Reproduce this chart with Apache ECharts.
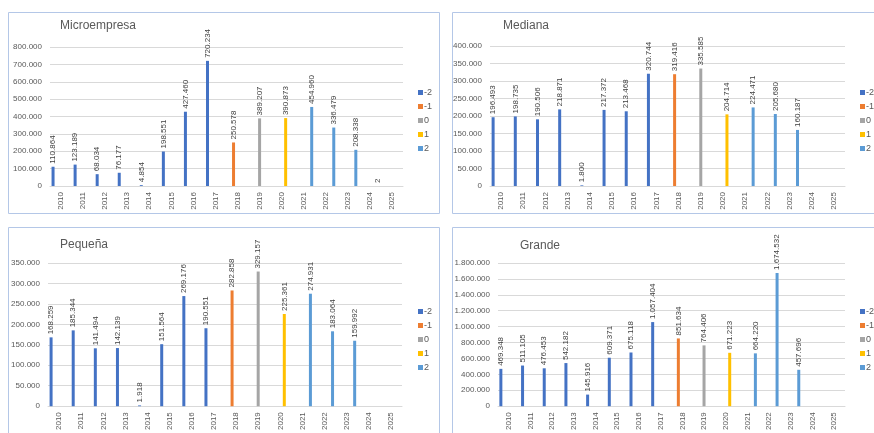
<!DOCTYPE html>
<html>
<head>
<meta charset="utf-8">
<script src="https://cdn.jsdelivr.net/npm/echarts@6/dist/echarts.min.js"></script>
<style>
  html, body { margin: 0; padding: 0; background: #fff; }
  #main { width: 874px; height: 433px; }
</style>
</head>
<body>
<div id="main"></div>
<script>
var years = ['2010','2011','2012','2013','2014','2015','2016','2017','2018','2019','2020','2021','2022','2023','2024','2025'];
var groupNames = ['-2', '-1', '0', '1', '2'];
// group of each year (which series it belongs to)
var yearGroup = ['-2','-2','-2','-2','-2','-2','-2','-2','-1','0','1','2','2','2','2','2'];

var microValues   = [110864, 123189, 68034, 76177, 4854, 198551, 427460, 720234, 250578, 389207, 390873, 454960, 336479, 208338, 2, null];
var medianaValues = [196493, 198735, 190506, 218871, 1800, 217372, 213468, 320744, 319416, 335585, 204714, 224471, 205680, 160187, null, null];
var pequenaValues = [168259, 185344, 141494, 142139, 1918, 151564, 269176, 190551, 282858, 329157, 225361, 274931, 183064, 159992, null, null];
var grandeValues  = [469348, 511105, 476453, 542182, 145916, 609371, 675118, 1057404, 851634, 764406, 671223, 664220, 1674532, 457696, null, null];

var panelTitles = ['Microempresa', 'Mediana', 'Pequeña', 'Grande'];
var panelValues = [microValues, medianaValues, pequenaValues, grandeValues];
var yMax = [800000, 400000, 350000, 1800000];
var yStep = [100000, 50000, 50000, 200000];

var colors = ['#4472c4', '#ed7d31', '#a5a5a5', '#ffc000', '#5b9bd5'];

// layout per panel
var grids = [
  {left: 50, top: 47, width: 353, height: 139},
  {left: 490, top: 46, width: 355, height: 140},
  {left: 48, top: 263, width: 354, height: 146},
  {left: 498, top: 263, width: 347, height: 146}
];
var titlePos = [[60, 20], [503, 20], [60, 239], [520, 240]];
var legendPos = [[418, 88], [860, 88], [418, 307], [860, 307]];
var panelBox = [[8.5, 12.5, 431, 201], [452.5, 12.5, 440, 201], [8.5, 227.5, 431, 220], [452.5, 227.5, 440, 220]];

var font = "'Liberation Sans Narrow', 'Liberation Sans', Arial, sans-serif";

function dots(v) {
  return String(v).replace(/\B(?=(\d{3})+(?!\d))/g, '.');
}

var chart = echarts.init(document.getElementById('main'));

var option = {
  color: colors,
  animation: false,
  title: [],
  legend: [],
  grid: [],
  xAxis: [],
  yAxis: [],
  series: [],
  graphic: []
};

for (var p = 0; p < 4; p++) {
  option.graphic.push({
    type: 'rect',
    shape: {x: panelBox[p][0], y: panelBox[p][1], width: panelBox[p][2], height: panelBox[p][3]},
    style: {fill: 'none', stroke: '#b4c7e7', lineWidth: 1},
    silent: true
  });
  option.title.push({
    text: panelTitles[p],
    left: titlePos[p][0],
    top: titlePos[p][1],
    padding: 0,
    textStyle: {fontFamily: 'Liberation Sans, Arial, sans-serif', fontSize: 12, fontWeight: 'normal', color: '#595959'}
  });
  option.legend.push({
    data: groupNames.map(function (n) { return {name: n, icon: 'rect'}; }),
    orient: 'vertical',
    left: legendPos[p][0],
    top: legendPos[p][1],
    itemWidth: 5,
    itemHeight: 5,
    itemGap: 5,
    padding: 0,
    selectedMode: false,
    textStyle: {fontFamily: font, fontSize: 9, color: '#595959', padding: [0, 0, 0, -4]}
  });
  option.grid.push({
    left: grids[p].left, top: grids[p].top, width: grids[p].width, height: grids[p].height,
    containLabel: false
  });
  option.xAxis.push({
    type: 'category',
    gridIndex: p,
    data: years,
    axisLine: {lineStyle: {color: '#d9d9d9'}},
    axisTick: {show: false},
    axisLabel: {interval: 0, rotate: 90, fontFamily: font, fontSize: 8, color: '#595959', margin: 6}
  });
  option.yAxis.push({
    type: 'value',
    gridIndex: p,
    min: 0,
    max: yMax[p],
    interval: yStep[p],
    axisLine: {show: false},
    axisTick: {show: false},
    splitLine: {lineStyle: {color: '#d9d9d9'}},
    axisLabel: {fontFamily: font, fontSize: 8, color: '#595959', margin: 8, formatter: dots}
  });
  for (var g = 0; g < groupNames.length; g++) {
    var vals = panelValues[p];
    var data = years.map(function (y, i) {
      return (yearGroup[i] === groupNames[g] && vals[i] != null) ? vals[i] : null;
    });
    option.series.push({
      name: groupNames[g],
      type: 'bar',
      xAxisIndex: p,
      yAxisIndex: p,
      data: data,
      barWidth: 3,
      barGap: '33%',
      itemStyle: {color: colors[g]},
      label: {
        show: true,
        position: 'top',
        rotate: 90,
        align: 'left',
        verticalAlign: 'middle',
        distance: 3,
        fontFamily: font,
        fontSize: 8,
        color: '#404040',
        formatter: function (prm) { return dots(prm.value); }
      }
    });
  }
}

chart.setOption(option);
</script>
</body>
</html>
